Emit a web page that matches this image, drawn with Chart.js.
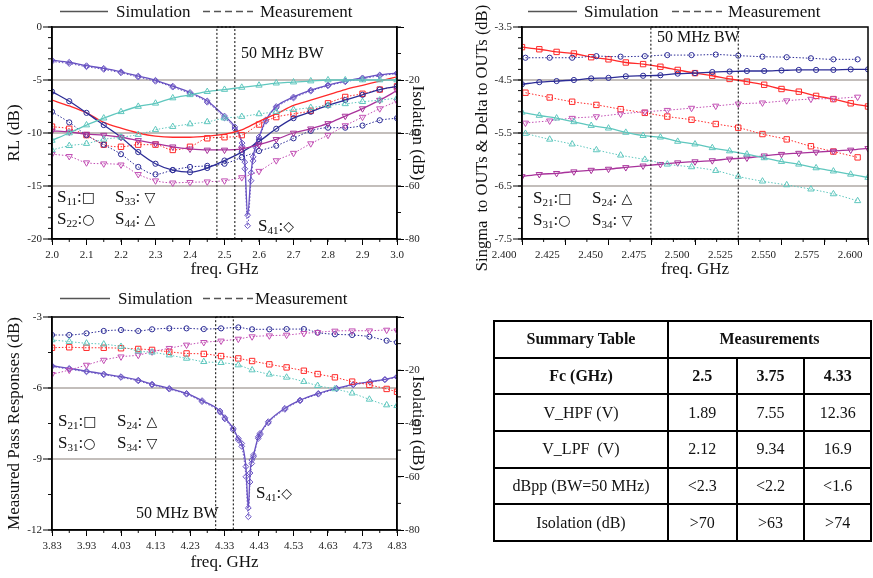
<!DOCTYPE html>
<html><head><meta charset="utf-8">
<script src="https://cdn.jsdelivr.net/npm/chart.js@4.4.1/dist/chart.umd.min.js"></script>
<style>
html,body{margin:0;padding:0;background:#fff;}
#wrap{position:relative;width:873px;height:578px;overflow:hidden;font-family:'Liberation Serif','Times New Roman',serif;color:#111;}
canvas{position:absolute;}
.t{position:absolute;white-space:nowrap;font-size:17px;line-height:18px;color:#111;}
.t sub{font-size:11px;vertical-align:-3px;line-height:0;}
.g{font-family:'DejaVu Sans',sans-serif;font-size:14px;}
.rot{transform:translate(-50%,-50%) rotate(-90deg);transform-origin:center;}
#tbl{position:absolute;left:493px;top:320px;width:379px;height:222px;border-collapse:collapse;border:2.5px solid #000;font-size:16px;}
#tbl td{border:2px solid #000;text-align:center;padding:0;height:34px;}
#tbl .b{font-weight:bold;}
</style></head><body><div id="wrap">
<canvas id="c1" width="437" height="285" style="left:0;top:0;width:437px;height:285px"></canvas>
<canvas id="c2" width="433" height="285" style="left:440px;top:0;width:433px;height:285px"></canvas>
<canvas id="c3" width="437" height="293" style="left:0;top:285px;width:437px;height:293px"></canvas>
<svg style="position:absolute;left:0;top:0" width="873" height="578">
 <line x1="60" y1="11.5" x2="108" y2="11.5" stroke="#555" stroke-width="1.6"/>
 <line x1="203" y1="11.5" x2="253" y2="11.5" stroke="#555" stroke-width="1.6" stroke-dasharray="7,4"/>
 <line x1="528" y1="11.5" x2="577" y2="11.5" stroke="#555" stroke-width="1.6"/>
 <line x1="672" y1="11.5" x2="722" y2="11.5" stroke="#555" stroke-width="1.6" stroke-dasharray="7,4"/>
 <line x1="60" y1="298.5" x2="110" y2="298.5" stroke="#555" stroke-width="1.6"/>
 <line x1="203" y1="298.5" x2="253" y2="298.5" stroke="#555" stroke-width="1.6" stroke-dasharray="7,4"/>
</svg>
<div class="t" style="left:116px;top:3px">Simulation</div>
<div class="t" style="left:260px;top:3px">Measurement</div>
<div class="t" style="left:584px;top:3px">Simulation</div>
<div class="t" style="left:728px;top:3px">Measurement</div>
<div class="t" style="left:118px;top:290px">Simulation</div>
<div class="t" style="left:255px;top:290px">Measurement</div>

<div class="t rot" style="left:482px;top:138px;font-size:16.5px">Singma&nbsp; to OUTs &amp; Delta to OUTs (dB)</div>

<div class="t" style="left:241px;top:44px;font-size:16px">50 MHz BW</div>
<div class="t" style="left:657px;top:28px;font-size:16px">50 MHz BW</div>
<div class="t" style="left:136px;top:504px;font-size:16px">50 MHz BW</div>

<div class="t" style="left:57px;top:188px">S<sub>11</sub>:<span class="g">□</span></div>
<div class="t" style="left:115px;top:188px">S<sub>33</sub>: <span class="g">▽</span></div>
<div class="t" style="left:57px;top:210px">S<sub>22</sub>:<span class="g">○</span></div>
<div class="t" style="left:115px;top:210px">S<sub>44</sub>: <span class="g">△</span></div>
<div class="t" style="left:258px;top:217px">S<sub>41</sub>:<span class="g">◇</span></div>

<div class="t" style="left:533px;top:189px">S<sub>21</sub>:<span class="g">□</span></div>
<div class="t" style="left:592px;top:189px">S<sub>24</sub>: <span class="g">△</span></div>
<div class="t" style="left:533px;top:211px">S<sub>31</sub>:<span class="g">○</span></div>
<div class="t" style="left:592px;top:211px">S<sub>34</sub>: <span class="g">▽</span></div>

<div class="t" style="left:58px;top:412px">S<sub>21</sub>:<span class="g">□</span></div>
<div class="t" style="left:117px;top:412px">S<sub>24</sub>: <span class="g">△</span></div>
<div class="t" style="left:58px;top:434px">S<sub>31</sub>:<span class="g">○</span></div>
<div class="t" style="left:117px;top:434px">S<sub>34</sub>: <span class="g">▽</span></div>
<div class="t" style="left:256px;top:484px">S<sub>41</sub>:<span class="g">◇</span></div>

<table id="tbl"></table>
</div>
<script>
// ===== Top-left: return loss (left axis) and isolation S41 (right axis) =====
const tlFreq = [2.00,2.05,2.10,2.15,2.20,2.25,2.30,2.35,2.40,2.45,2.50,2.55,2.60,2.65,2.70,2.75,2.80,2.85,2.90,2.95,3.00];
const tlS11Sim  = [-6.9,-7.45,-8.1,-9.0,-9.55,-10.0,-10.3,-10.4,-10.4,-10.3,-10.1,-9.7,-8.9,-8.2,-7.4,-6.9,-6.4,-5.9,-5.5,-5.1,-4.7];
const tlS11Meas = [-9.4,-9.6,-10.2,-11.1,-11.3,-11.1,-11.1,-11.6,-11.3,-10.5,-10.4,-10.2,-9.2,-8.5,-8.2,-7.9,-7.2,-6.6,-6.3,-5.9,-5.6];
const tlS22Sim  = [-6.1,-7.0,-8.1,-9.25,-10.4,-11.8,-12.9,-13.5,-13.7,-13.3,-12.6,-11.8,-10.8,-9.6,-8.6,-8.0,-7.4,-6.9,-6.4,-5.9,-5.6];
const tlS22Meas = [-8.0,-9.0,-10.2,-11.1,-12.0,-13.2,-13.9,-13.5,-13.2,-13.1,-12.9,-12.3,-11.7,-11.2,-10.5,-9.8,-9.5,-9.5,-9.3,-8.8,-8.6];
const tlS33Sim  = [-9.8,-9.9,-10.1,-10.2,-10.4,-10.7,-11.0,-11.3,-11.5,-11.6,-11.6,-11.5,-11.1,-10.6,-10.0,-9.6,-9.1,-8.4,-7.7,-6.9,-6.0];
const tlS33Meas = [-12.0,-12.2,-12.8,-12.9,-13.0,-13.9,-14.5,-14.7,-14.65,-14.6,-14.5,-14.2,-13.6,-12.6,-11.9,-11.0,-10.2,-9.3,-8.5,-7.7,-7.0];
const tlS44Sim  = [-10.7,-10.0,-9.25,-8.6,-8.0,-7.5,-7.2,-6.7,-6.4,-6.1,-5.9,-5.7,-5.5,-5.3,-5.2,-5.1,-5.0,-5.0,-5.0,-5.0,-5.0];
const tlS44Meas = [-11.6,-11.2,-11.0,-10.6,-10.4,-10.15,-9.7,-9.4,-9.15,-8.95,-8.6,-8.45,-8.2,-8.0,-7.8,-7.6,-7.4,-7.25,-7.05,-6.9,-6.7];
const tlS41Freq = [2.00,2.05,2.10,2.15,2.20,2.25,2.30,2.35,2.40,2.45,2.50,2.53,2.551,2.559,2.567,2.577,2.583,2.591,2.60,2.62,2.65,2.70,2.75,2.80,2.85,2.90,2.95,3.00];
const tlS41Sim  = [-12.5,-13.3,-14.6,-15.6,-16.9,-18.5,-20.1,-22.3,-24.7,-27.9,-33.6,-37.7,-43.8,-51.0,-71.0,-55.0,-49.0,-44.5,-41.5,-35.0,-30.0,-26.4,-23.8,-21.9,-20.4,-19.2,-18.1,-17.4];
const tlS41Meas = [-13.0,-13.8,-15.0,-16.0,-17.3,-18.9,-20.5,-22.7,-25.1,-28.4,-34.3,-38.5,-45.0,-53.5,-75.0,-58.0,-50.5,-45.5,-42.3,-35.6,-30.5,-26.8,-24.2,-22.2,-20.7,-19.5,-18.4,-17.6];
const tlBand = [2.478, 2.530];

// ===== Top-right: Sigma / Delta to OUTs =====
const trSimFreq  = [2.40,2.41,2.42,2.43,2.44,2.45,2.46,2.47,2.48,2.49,2.50,2.51,2.52,2.53,2.54,2.55,2.56,2.57,2.58,2.59,2.60];
const trS21Sim = [-3.88,-3.92,-3.97,-4.00,-4.07,-4.11,-4.17,-4.20,-4.25,-4.31,-4.37,-4.42,-4.48,-4.53,-4.59,-4.67,-4.72,-4.80,-4.86,-4.94,-5.00];
const trS31Sim = [-4.58,-4.54,-4.52,-4.50,-4.47,-4.46,-4.43,-4.42,-4.41,-4.38,-4.37,-4.35,-4.34,-4.33,-4.33,-4.32,-4.31,-4.31,-4.31,-4.30,-4.30];
const trS24Sim = [-5.11,-5.17,-5.22,-5.29,-5.36,-5.41,-5.49,-5.55,-5.58,-5.66,-5.71,-5.78,-5.84,-5.90,-5.97,-6.04,-6.09,-6.16,-6.22,-6.28,-6.34];
const trS34Sim = [-6.32,-6.28,-6.26,-6.23,-6.20,-6.18,-6.15,-6.12,-6.09,-6.06,-6.04,-6.02,-5.99,-5.97,-5.93,-5.90,-5.88,-5.86,-5.84,-5.82,-5.79];
const trMeasFreq = [2.402,2.416,2.429,2.443,2.457,2.471,2.484,2.498,2.512,2.525,2.539,2.553,2.567,2.580,2.594];
const trS21Meas = [-4.74,-4.83,-4.91,-4.97,-5.05,-5.12,-5.19,-5.25,-5.33,-5.40,-5.52,-5.62,-5.75,-5.85,-5.96];
const trS31Meas = [-4.08,-4.08,-4.08,-4.05,-4.06,-4.05,-4.03,-4.03,-4.02,-4.04,-4.06,-4.07,-4.09,-4.11,-4.11];
const trS24Meas = [-5.51,-5.62,-5.71,-5.82,-5.92,-6.00,-6.09,-6.14,-6.21,-6.32,-6.41,-6.48,-6.56,-6.65,-6.78];
const trS34Meas = [-5.31,-5.27,-5.22,-5.19,-5.14,-5.10,-5.07,-5.03,-4.99,-4.95,-4.93,-4.89,-4.86,-4.85,-4.82];
const trBand = [2.4745, 2.525];

// ===== Bottom-left: measured pass responses =====
const blMeasFreq = [3.83,3.88,3.93,3.98,4.03,4.08,4.12,4.17,4.22,4.27,4.32,4.37,4.41,4.46,4.51,4.56,4.60,4.65,4.70,4.75,4.80,4.83];
const blS21Meas = [-4.30,-4.28,-4.30,-4.30,-4.32,-4.35,-4.39,-4.47,-4.54,-4.56,-4.65,-4.75,-4.86,-5.00,-5.13,-5.27,-5.41,-5.55,-5.73,-5.87,-6.04,-6.16];
const blS24Meas = [-3.97,-4.04,-4.11,-4.15,-4.25,-4.44,-4.49,-4.61,-4.75,-4.89,-4.93,-5.03,-5.24,-5.42,-5.55,-5.73,-5.90,-6.04,-6.22,-6.48,-6.72,-6.75];
const blS31Meas = [-3.76,-3.76,-3.69,-3.59,-3.55,-3.59,-3.52,-3.48,-3.48,-3.51,-3.48,-3.44,-3.52,-3.52,-3.51,-3.51,-3.66,-3.73,-3.76,-3.83,-4.00,-4.07];
const blS34Meas = [-5.42,-5.24,-5.03,-4.82,-4.68,-4.61,-4.47,-4.32,-4.18,-4.07,-4.01,-3.93,-3.83,-3.79,-3.76,-3.69,-3.65,-3.59,-3.58,-3.58,-3.55,-3.58];
const blS41Freq = [3.83,3.88,3.93,3.98,4.03,4.08,4.12,4.17,4.22,4.265,4.317,4.331,4.355,4.370,4.380,4.392,4.399,4.404,4.409,4.414,4.428,4.433,4.457,4.505,4.549,4.602,4.655,4.703,4.752,4.795,4.83];
const blS41Sim  = [-18.3,-19.3,-20.3,-21.4,-22.4,-23.7,-25.2,-26.8,-28.7,-31.4,-35.3,-37.8,-41.8,-45.6,-47.5,-56.2,-71.7,-58.6,-53.7,-51.8,-45.0,-43.7,-39.3,-34.3,-31.2,-28.7,-26.8,-25.3,-24.3,-23.4,-22.4];
const blS41Meas = [-18.6,-19.6,-20.6,-21.7,-22.7,-24.0,-25.5,-27.1,-29.0,-31.8,-35.8,-38.3,-42.4,-46.2,-48.6,-60.0,-75.0,-62.0,-55.0,-52.5,-45.6,-44.2,-39.8,-34.7,-31.5,-29.0,-27.0,-25.5,-24.5,-23.6,-22.6];
const blBand = [4.3045, 4.3555];

// ===== Summary table =====
const tblFc   = ['2.5','3.75','4.33'];
const tblVHPF = ['1.89','7.55','12.36'];
const tblVLPF = ['2.12','9.34','16.9'];
const tblDBpp = ['<2.3','<2.2','<1.6'];
const tblIso  = ['>70','>63','>74'];

// ---------------------------------------------------------------
const RED='#ff2a2a', NAVY='#2c2c96', MAG='#a8329b', MAGL='#c24fb4', TURQ='#5fc7be', VIO='#6852c2';
Chart.defaults.font.family = "'Liberation Serif','Times New Roman',serif";
Chart.defaults.color = '#222';

const MK = {
  sq:  {pointStyle:'rect', pointRadius:3.8, pointRotation:0},
  ci:  {pointStyle:'circle', pointRadius:2.6, pointRotation:0},
  up:  {pointStyle:'triangle', pointRadius:3.6, pointRotation:0},
  dn:  {pointStyle:'triangle', pointRadius:3.6, pointRotation:180},
  di:  {pointStyle:'rectRot', pointRadius:2.9, pointRotation:0},
  none:{pointStyle:'circle', pointRadius:0, pointRotation:0}
};
function series(xs, ys, color, mk, meas, axis) {
  return Object.assign({
    data: xs.map((x,i)=>({x:x, y:ys[i]})),
    borderColor: color, backgroundColor: color,
    borderWidth: meas ? 1 : 1.3,
    borderDash: meas ? [1.5,1.8] : [],
    pointBorderColor: color, pointBackgroundColor: 'rgba(255,255,255,0)',
    pointBorderWidth: 1, cubicInterpolationMode: 'monotone',
    yAxisID: axis || 'y'
  }, MK[mk]);
}

const frameTicks = {
  id: 'frameTicks',
  afterDraw(chart, args, o) {
    const {ctx, chartArea: a} = chart;
    ctx.save();
    ctx.strokeStyle = '#111'; ctx.lineWidth = 1;
    (o.minor || []).forEach(m => {
      const s = chart.scales[m.axis];
      const n = Math.round((s.max - s.min) / m.step);
      for (let k = 0; k <= n; k++) {
        const p = s.getPixelForValue(s.min + k * m.step);
        ctx.beginPath();
        if (s.isHorizontal()) { ctx.moveTo(p, a.bottom); ctx.lineTo(p, a.bottom + m.len); }
        else if (s.position === 'left') { ctx.moveTo(a.left, p); ctx.lineTo(a.left - m.len, p); }
        else { ctx.moveTo(a.right, p); ctx.lineTo(a.right + m.len, p); }
        ctx.stroke();
      }
    });
    if (o.band) {
      const xs = chart.scales.x;
      const x0 = xs.getPixelForValue(o.band[0]), x1 = xs.getPixelForValue(o.band[1]);
      ctx.setLineDash([2,2]); ctx.strokeStyle = '#000'; ctx.lineWidth = 1;
      ctx.strokeRect(x0, a.top, x1 - x0, a.bottom - a.top);
      ctx.setLineDash([]);
    }
    ctx.lineWidth = 1.5; ctx.strokeStyle = '#000';
    ctx.strokeRect(a.left, a.top, a.right - a.left, a.bottom - a.top);
    ctx.restore();
  }
};

const tickFont = {size: 11};
const titleFont = {size: 17};
const GRID = '#c3bebb';
function innerGrid(lo, hi) {
  return c => (c.tick && c.tick.value > lo + 1e-6 && c.tick.value < hi - 1e-6) ? GRID : 'rgba(0,0,0,0)';
}
function xScale(min, max, step, dec, h, tpad, lblOff) {
  return {type:'linear', min:min, max:max,
    afterFit: s => { s.height = h; s.paddingLeft = 0; s.paddingRight = 0; },
    ticks:{stepSize:step, font:tickFont, padding:4, maxRotation:0, autoSkip:false, color:'#222', labelOffset: lblOff || 0, callback: v => Number(v).toFixed(dec)},
    grid:{drawOnChartArea:false, tickLength:6, tickColor:'#000', tickWidth:1},
    border:{color:'#000', width:1.5},
    title:{display:true, text:'freq. GHz', font:titleFont, color:'#111', padding:{top:0, bottom:tpad}}};
}
function yLeft(min, max, step, dec, w, title, tpad) {
  return {type:'linear', position:'left', min:min, max:max,
    afterFit: s => { s.width = w; s.paddingTop = 0; s.paddingBottom = 0; },
    ticks:{stepSize:step, font:tickFont, padding:1, color:'#222', callback: v => dec === null ? String(Math.round(v)) : Number(v).toFixed(dec)},
    grid:{color: innerGrid(min, max), lineWidth:2, tickLength:9, tickColor:'#000', tickWidth:1},
    border:{color:'#000', width:1.5},
    title:{display: !!title, text:title || '', font:titleFont, color:'#111', padding:{top:tpad, bottom:0}}};
}
function yRight(w) {
  return {type:'linear', position:'right', min:-80, max:0,
    afterFit: s => { s.width = w; s.paddingTop = 0; s.paddingBottom = 0; },
    ticks:{stepSize:20, font:tickFont, padding:1, color:'#222', callback: v => v === 0 ? '' : String(Math.round(v))},
    grid:{drawOnChartArea:false, tickLength:7, tickColor:'#000', tickWidth:1},
    border:{color:'#000', width:1.5},
    title:{display:true, text:'Isolation (dB)', font:titleFont, color:'#111', padding:{top:9, bottom:0}}};
}
function baseOpts(pad, scales, pl) {
  return {responsive:false, animation:false, events:[],
    layout:{padding:pad},
    plugins:{legend:{display:false}, tooltip:{enabled:false}, frameTicks:pl},
    scales:scales};
}

// ---- Chart 1 ----
new Chart(document.getElementById('c1'), {
  type:'line',
  data:{datasets:[
    series(tlFreq, tlS44Meas, TURQ, 'up', true),
    series(tlFreq, tlS44Sim,  TURQ, 'up', false),
    series(tlFreq, tlS33Meas, MAGL, 'dn', true),
    series(tlFreq, tlS33Sim,  MAG,  'dn', false),
    series(tlFreq, tlS22Meas, NAVY, 'ci', true),
    series(tlFreq, tlS22Sim,  NAVY, 'ci', false),
    series(tlFreq, tlS11Meas, RED,  'sq', true),
    series(tlFreq, tlS11Sim,  RED,  'none', false),
    series(tlS41Freq, tlS41Meas, VIO, 'di', true, 'y2'),
    series(tlS41Freq, tlS41Sim,  VIO, 'di', false, 'y2')
  ]},
  options: baseOpts({top:27, left:0, right:0, bottom:0}, {
    x: xScale(2.0, 3.0, 0.1, 1, 46, 5, 0),
    y: yLeft(-20, 0, 5, null, 52, 'RL (dB)', 4),
    y2: yRight(40)
  }, {minor:[{axis:'x', step:0.05, len:3}, {axis:'y', step:1, len:4}, {axis:'y2', step:10, len:4}], band: tlBand}),
  plugins:[frameTicks]
});

// ---- Chart 2 ----
new Chart(document.getElementById('c2'), {
  type:'line',
  data:{datasets:[
    series(trMeasFreq, trS24Meas, TURQ, 'up', true),
    series(trSimFreq,  trS24Sim,  TURQ, 'up', false),
    series(trMeasFreq, trS34Meas, MAGL, 'dn', true),
    series(trSimFreq,  trS34Sim,  MAG,  'dn', false),
    series(trMeasFreq, trS31Meas, NAVY, 'ci', true),
    series(trSimFreq,  trS31Sim,  NAVY, 'ci', false),
    series(trMeasFreq, trS21Meas, RED,  'sq', true),
    series(trSimFreq,  trS21Sim,  RED,  'sq', false)
  ]},
  options: baseOpts({top:27, left:0, right:4, bottom:0}, {
    x: xScale(2.4, 2.6, 0.025, 3, 46, 5, -18),
    y: yLeft(-7.5, -3.5, 1, 1, 82, null, 0)
  }, {minor:[{axis:'x', step:0.0125, len:3}, {axis:'y', step:0.2, len:4}], band: trBand}),
  plugins:[frameTicks]
});

// ---- Chart 3 ----
new Chart(document.getElementById('c3'), {
  type:'line',
  data:{datasets:[
    series(blMeasFreq, blS24Meas, TURQ, 'up', true),
    series(blMeasFreq, blS34Meas, MAGL, 'dn', true),
    series(blMeasFreq, blS31Meas, NAVY, 'ci', true),
    series(blMeasFreq, blS21Meas, RED,  'sq', true),
    series(blS41Freq, blS41Meas, VIO, 'di', true, 'y2'),
    series(blS41Freq, blS41Sim,  VIO, 'di', false, 'y2')
  ]},
  options: baseOpts({top:32, left:0, right:0, bottom:0}, {
    x: xScale(3.83, 4.83, 0.1, 2, 48, 5, 0),
    y: yLeft(-12, -3, 3, null, 52, 'Measured Pass Responses (dB)', 4),
    y2: yRight(40)
  }, {minor:[{axis:'x', step:0.05, len:3}, {axis:'y', step:1.5, len:4}, {axis:'y2', step:10, len:4}], band: blBand}),
  plugins:[frameTicks]
});

// ---- Table ----
(function(){
  const t = document.getElementById('tbl');
  const cols = '<colgroup><col style="width:175px"><col style="width:69px"><col style="width:68px"><col style="width:67px"></colgroup>';
  let h = cols + '<tr><td class="b">Summary Table</td><td class="b" colspan="3">Measurements</td></tr>';
  h += '<tr><td class="b">Fc (GHz)</td>' + tblFc.map(v => '<td class="b">' + v + '</td>').join('') + '</tr>';
  const rows = [['V_HPF (V)', tblVHPF], ['V_LPF&nbsp; (V)', tblVLPF], ['dBpp (BW=50 MHz)', tblDBpp], ['Isolation (dB)', tblIso]];
  rows.forEach(r => {
    h += '<tr><td>' + r[0] + '</td>' + r[1].map(v => '<td>' + v.replace('<','&lt;').replace('>','&gt;') + '</td>').join('') + '</tr>';
  });
  t.innerHTML = h;
})();
</script>
</body></html>
